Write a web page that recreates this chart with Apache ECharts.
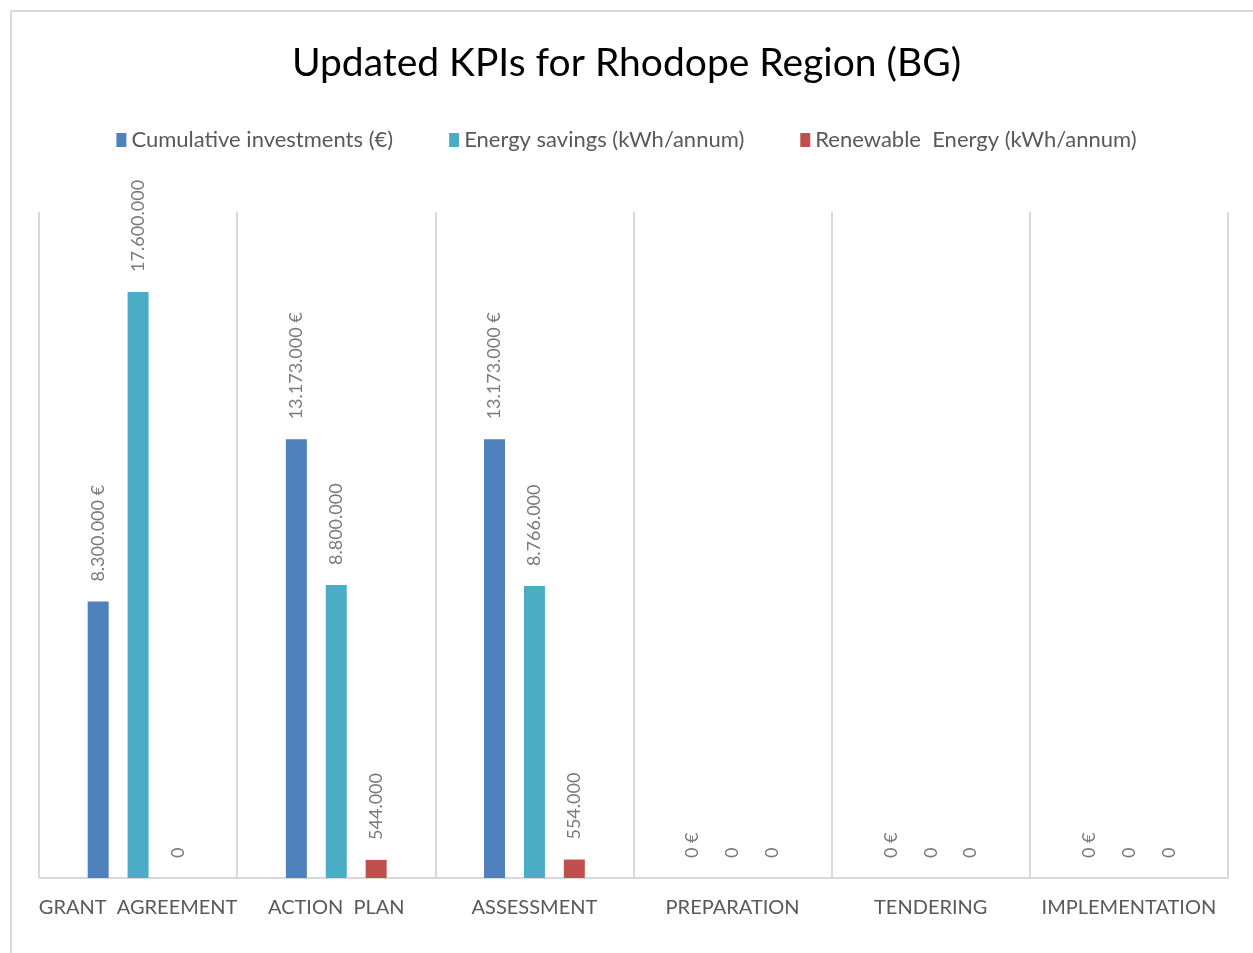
<!DOCTYPE html>
<html>
<head>
<meta charset="utf-8">
<title>Updated KPIs for Rhodope Region (BG)</title>
<script src="https://cdn.jsdelivr.net/npm/echarts@6/dist/echarts.min.js"></script>
<style>
  html, body { margin: 0; padding: 0; background: #fff; }
  #frame { position: absolute; left: 10px; top: 10px; width: 1250px; height: 950px;
           border-top: 2px solid #d9d9d9; border-left: 2px solid #d9d9d9; }
  #main { position: absolute; left: 0; top: 0; width: 1253px; height: 953px; }
</style>
</head>
<body>
<div id="frame"></div>
<div id="main"></div>
<script>
// 数据
var categories = ['GRANT  AGREEMENT', 'ACTION  PLAN', 'ASSESSMENT', 'PREPARATION', 'TENDERING', 'IMPLEMENTATION'];
var seriesNames = ['Cumulative investments (€)', 'Energy savings (kWh/annum)', 'Renewable  Energy (kWh/annum)'];
var investments = [8300000, 13173000, 13173000, 0, 0, 0];
var savings = [17600000, 8800000, 8766000, 0, 0, 0];
var renewable = [0, 544000, 554000, 0, 0, 0];

// 千位用点分隔
function fmt(v) {
	return String(v).replace(/\B(?=(\d{3})+(?!\d))/g, '.');
}

var labelBase = {
	show: true,
	position: 'top',
	rotate: 90,
	align: 'left',
	verticalAlign: 'middle',
	distance: 20,
	color: '#7a7a7a',
	fontFamily: 'Lato',
	fontSize: 18
};

var chart = echarts.init(document.getElementById('main'));
var option = {
	animation: false,
	color: ['#4f81bd', '#4bacc6', '#c0504d'],
	title: {
		text: 'Updated KPIs for Rhodope Region (BG)',
		left: 'center',
		top: 39,
		textStyle: {
			fontFamily: 'Lato',
			fontSize: 39,
			fontWeight: 'normal',
			color: '#000'
		}
	},
	legend: {
		data: seriesNames,
		top: 124,
		left: 'center',
		itemWidth: 10,
		itemHeight: 14,
		itemGap: 56,
		icon: 'rect',
		textStyle: {
			fontFamily: 'Lato',
			fontSize: 22,
			color: '#595959'
		}
	},
	grid: {
		left: 39,
		right: 25,
		top: 212,
		bottom: 75
	},
	xAxis: {
		type: 'category',
		data: categories,
		axisLine: { lineStyle: { color: '#d9d9d9', width: 2 } },
		axisTick: { show: false },
		splitLine: { show: true, lineStyle: { color: '#d9d9d9', width: 2 } },
		axisLabel: {
			interval: 0,
			margin: 20,
			fontFamily: 'Lato',
			fontSize: 20,
			color: '#595959'
		}
	},
	yAxis: {
		type: 'value',
		min: 0,
		max: 20000000,
		show: false,
		splitLine: { show: false }
	},
	series: [
		{
			name: seriesNames[0],
			type: 'bar',
			barWidth: 21,
			barGap: '90%',
			data: investments,
			label: Object.assign({}, labelBase, {
				formatter: function (p) { return fmt(p.value) + ' €'; }
			})
		},
		{
			name: seriesNames[1],
			type: 'bar',
			barWidth: 21,
			barGap: '90%',
			data: savings,
			label: Object.assign({}, labelBase, {
				formatter: function (p) { return fmt(p.value); }
			})
		},
		{
			name: seriesNames[2],
			type: 'bar',
			barWidth: 21,
			barGap: '90%',
			data: renewable,
			label: Object.assign({}, labelBase, {
				formatter: function (p) { return fmt(p.value); }
			})
		}
	]
};
chart.setOption(option);
</script>
</body>
</html>
